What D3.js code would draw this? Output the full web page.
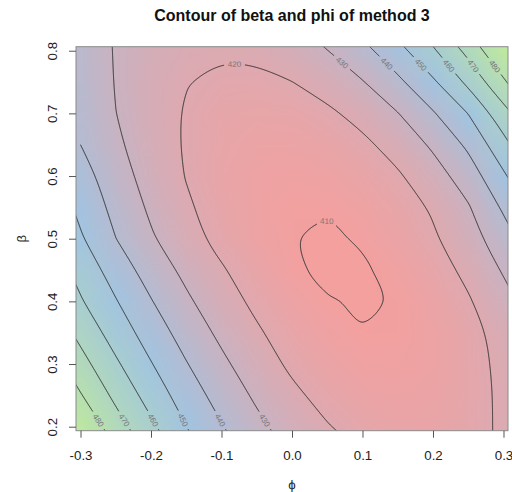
<!DOCTYPE html>
<html>
<head>
<meta charset="utf-8">
<script src="https://cdn.jsdelivr.net/npm/d3@7"></script>
<style>
  body { margin: 0; background: #fff; }
  svg { display: block; font-family: "Liberation Sans", Arial, Helvetica, sans-serif; }
</style>
</head>
<body>
<script>
// Grid of the surface, rows run from beta = 0.8 (top) down to beta = 0.2
const phiValues = [-0.3, -0.25, -0.2, -0.15, -0.1, -0.05, 0, 0.05, 0.1, 0.15, 0.2, 0.25, 0.3];
const betaValues = [0.8, 0.75, 0.7, 0.65, 0.6, 0.55, 0.5, 0.45, 0.4, 0.35, 0.3, 0.25, 0.2];
const zValues = [
  [436.7, 429.3, 424.8, 422.0, 421.0, 421.8, 424.8, 429.8, 436.9, 446.6, 458.6, 472.8, 490.0],
  [437.7, 429.5, 424.0, 420.3, 418.1, 418.0, 419.9, 423.7, 429.5, 437.9, 448.5, 462.3, 478.4],
  [438.7, 430.1, 423.9, 419.3, 416.4, 415.3, 416.0, 418.4, 422.9, 429.7, 439.1, 450.2, 466.3],
  [440.0, 431.7, 424.6, 419.1, 415.4, 413.5, 413.4, 414.9, 418.1, 423.5, 431.5, 441.8, 456.8],
  [444.3, 434.3, 426.1, 419.6, 415.1, 412.4, 411.5, 412.3, 414.8, 418.9, 425.7, 434.8, 448.5],
  [447.6, 437.1, 428.4, 421.3, 415.8, 412.3, 410.5, 410.7, 412.0, 415.7, 421.0, 429.1, 441.4],
  [451.1, 440.1, 431.1, 423.3, 417.2, 412.9, 410.33, 409.1, 410.6, 413.8, 418.8, 426.0, 435.6],
  [456.7, 445.4, 435.8, 427.6, 420.9, 415.1, 410.73, 409.1, 409.35, 411.7, 416.0, 422.2, 430.9],
  [460.9, 450.6, 440.5, 431.6, 424.1, 417.9, 412.9, 410.3, 409.45, 410.4, 414.0, 419.1, 426.7],
  [467.1, 455.6, 445.4, 435.9, 427.9, 421.2, 415.6, 411.9, 410.28, 410.5, 412.8, 417.1, 423.0],
  [473.6, 461.5, 450.5, 440.5, 432.0, 424.4, 418.3, 414.0, 411.7, 411.3, 412.9, 416.6, 422.1],
  [480.7, 467.6, 455.9, 445.2, 436.1, 428.4, 421.9, 417.0, 413.9, 412.8, 413.7, 416.7, 421.5],
  [489.3, 474.4, 462.0, 450.1, 440.6, 432.3, 425.6, 420.5, 416.9, 415.1, 415.2, 417.3, 421.2]
];
const levels = [410, 420, 430, 440, 450, 460, 470, 480];
const xTicks = [-0.3, -0.2, -0.1, 0, 0.1, 0.2, 0.3];
const yTicks = [0.2, 0.3, 0.4, 0.5, 0.6, 0.7, 0.8];
const title = 'Contour of beta and phi of method 3';

const fontFamily = '"Liberation Sans", Arial, Helvetica, sans-serif';

// Dimensions
const width = 512;
const height = 492;
const margin = { top: 46.7, right: 4, bottom: 61.3, left: 76 };
const innerWidth = width - margin.left - margin.right;
const innerHeight = height - margin.top - margin.bottom;

const nx = phiValues.length;
const ny = betaValues.length;

const svg = d3.select('body')
  .append('svg')
  .attr('width', width)
  .attr('height', height)
  .attr('font-family', fontFamily);

// Scales (axes are slightly wider than the grid, like R's image)
const xScale = d3.scaleLinear()
  .domain([-0.3064, 0.3064])
  .range([margin.left, margin.left + innerWidth]);
const yScale = d3.scaleLinear()
  .domain([0.1936, 0.8064])
  .range([margin.top + innerHeight, margin.top]);

const zExtent = d3.extent(zValues.flat());
const color = d3.scaleLinear()
  .domain([zExtent[0], (zExtent[0] + zExtent[1]) / 2, zExtent[1]])
  .range(['#f5a09e', '#a1c4e2', '#bde8a1']);

const defs = svg.append('defs');
defs.append('clipPath')
  .attr('id', 'plot-clip')
  .append('rect')
  .attr('x', margin.left)
  .attr('y', margin.top)
  .attr('width', innerWidth)
  .attr('height', innerHeight);

// Colour image: one pixel per grid value, the browser smooths it when scaled
const canvas = document.createElement('canvas');
canvas.width = nx;
canvas.height = ny;
const ctx = canvas.getContext('2d');
const img = ctx.createImageData(nx, ny);
zValues.forEach((row, j) => row.forEach((z, i) => {
  const c = d3.rgb(color(z));
  const k = (j * nx + i) * 4;
  img.data[k] = c.r;
  img.data[k + 1] = c.g;
  img.data[k + 2] = c.b;
  img.data[k + 3] = 255;
}));
ctx.putImageData(img, 0, 0);

const halfX = (phiValues[1] - phiValues[0]) / 2;
const halfY = (betaValues[0] - betaValues[1]) / 2;

const plot = svg.append('g').attr('clip-path', 'url(#plot-clip)');
plot.append('image')
  .attr('href', canvas.toDataURL())
  .attr('preserveAspectRatio', 'none')
  .attr('x', xScale(phiValues[0] - halfX))
  .attr('y', yScale(betaValues[0] + halfY))
  .attr('width', xScale(phiValues[nx - 1] + halfX) - xScale(phiValues[0] - halfX))
  .attr('height', yScale(betaValues[ny - 1] - halfY) - yScale(betaValues[0] + halfY));

// Contour lines from d3.contours
const probe = d3.contours().size([2, 1]).thresholds([0.5])([0, 1]);
const offset = d3.min(probe[0].coordinates[0][0], p => p[0]) - 0.5;
const gx = d3.scaleLinear().domain([0, nx - 1]).range([phiValues[0], phiValues[nx - 1]]);
const gy = d3.scaleLinear().domain([0, ny - 1]).range([betaValues[0], betaValues[ny - 1]]);

const eps = 1e-9;
const onEdge = p => p[0] <= eps || p[0] >= nx - eps || p[1] <= eps || p[1] >= ny - eps;

const lines = [];
d3.contours().size([nx, ny]).thresholds(levels)(zValues.flat()).forEach(c => {
  c.coordinates.forEach(poly => poly.forEach(ring => {
    let pts = ring.slice(0, -1);
    const k = pts.findIndex(onEdge);
    if (k < 0) {
      lines.push({ value: c.value, closed: true, pts });
      return;
    }
    pts = pts.slice(k).concat(pts.slice(0, k), [pts[k]]);
    let run = [];
    pts.forEach(p => {
      if (onEdge(p)) {
        if (run.length > 1) lines.push({ value: c.value, closed: false, pts: run });
        run = [];
      } else {
        run.push(p);
      }
    });
  }));
});

// Extend open lines a little past the grid so they reach the frame
function extend(a, b) {
  const dx = a[0] - b[0], dy = a[1] - b[1];
  const len = Math.hypot(dx, dy) || 1;
  return [a[0] + dx / len * 0.6, a[1] + dy / len * 0.6];
}
lines.forEach(l => {
  let pts = l.pts;
  if (!l.closed) {
    const n = pts.length;
    pts = [extend(pts[0], pts[1])].concat(pts, [extend(pts[n - 1], pts[n - 2])]);
  }
  l.px = pts.map(p => [xScale(gx(p[0] - offset)), yScale(gy(p[1] - offset))]);
});

const lineOpen = d3.line().curve(d3.curveBasis);
const lineClosed = d3.line().curve(d3.curveCatmullRomClosed.alpha(0.5));

const contourGroup = plot.append('g');
const paths = contourGroup.selectAll('path')
  .data(lines)
  .enter()
  .append('path')
  .attr('d', d => (d.closed ? lineClosed : lineOpen)(d.px))
  .style('fill', 'none')
  .style('stroke', '#333')
  .style('stroke-width', '1px');

// Contour labels, the line is broken where a label sits
const x0 = margin.left, x1 = margin.left + innerWidth;
const y0 = margin.top, y1 = margin.top + innerHeight;
const inside = p => p.x >= x0 && p.x <= x1 && p.y >= y0 && p.y <= y1;

const labelGroup = svg.append('g');
paths.each(function(d) {
  const node = this;
  const total = node.getTotalLength();
  const all = d3.range(0, total, 0.75).concat([total]).map(s => {
    const p = node.getPointAtLength(s);
    return { s, x: p.x, y: p.y };
  });
  const samples = all.filter(inside);
  if (!samples.length) return;

  const topIdx = d3.minIndex(samples, p => p.y);
  let s;
  if (d.closed || (topIdx > 4 && topIdx < samples.length - 5)) {
    s = samples[topIdx].s;
  } else {
    const first = samples[0], last = samples[samples.length - 1];
    const ends = [[first, 1], [last, -1]];
    const bottomEnd = ends.find(e => e[0].y > y1 - 2);
    const topEnd = ends.find(e => e[0].y < y0 + 2);
    if (bottomEnd) s = bottomEnd[0].s + bottomEnd[1] * 12;
    else if (topEnd) s = topEnd[0].s + topEnd[1] * 24;
    else s = samples[Math.floor(samples.length / 2)].s;
  }
  const p = node.getPointAtLength(s);
  const pa = node.getPointAtLength(Math.max(0, s - 2));
  const pb = node.getPointAtLength(Math.min(total, s + 2));
  let angle = Math.atan2(pb.y - pa.y, pb.x - pa.x) * 180 / Math.PI;
  if (angle > 90) angle -= 180;
  if (angle < -90) angle += 180;

  const label = labelGroup.append('text')
    .attr('transform', `translate(${p.x},${p.y}) rotate(${angle})`)
    .attr('text-anchor', 'middle')
    .attr('dy', '0.36em')
    .style('font-size', '8px')
    .style('fill', '#777')
    .text(d.value);
  const w = label.node().getComputedTextLength();

  const gapA = s - w / 2 - 3.5, gapB = s + w / 2 + 3.5;
  const segs = [[]];
  all.forEach(q => {
    if (q.s > gapA && q.s < gapB) {
      if (segs[segs.length - 1].length) segs.push([]);
    } else {
      segs[segs.length - 1].push([q.x, q.y]);
    }
  });
  d3.select(node).attr('d', segs.filter(g => g.length > 1).map(g => 'M' + g.join('L')).join(''));
});

// Frame
svg.append('rect')
  .attr('x', margin.left)
  .attr('y', margin.top)
  .attr('width', innerWidth)
  .attr('height', innerHeight)
  .style('fill', 'none')
  .style('stroke', '#8a8a8a')
  .style('stroke-width', '1px');

// Axes
const xAxis = d3.axisBottom(xScale).tickValues(xTicks).tickSize(7).tickFormat(d => d.toFixed(1));
const yAxis = d3.axisLeft(yScale).tickValues(yTicks).tickSize(7).tickFormat(d => d.toFixed(1));

const gxAxis = svg.append('g')
  .attr('class', 'x-axis')
  .attr('transform', `translate(0, ${margin.top + innerHeight})`)
  .call(xAxis)
  .attr('font-family', fontFamily);
gxAxis.select('.domain').remove();
gxAxis.selectAll('line').style('stroke', '#555');
gxAxis.selectAll('text')
  .attr('y', 29.3)
  .attr('dy', null)
  .style('font-size', '13.3px')
  .style('fill', '#222');

const gyAxis = svg.append('g')
  .attr('class', 'y-axis')
  .attr('transform', `translate(${margin.left}, 0)`)
  .call(yAxis)
  .attr('font-family', fontFamily);
gyAxis.select('.domain').remove();
gyAxis.selectAll('line').style('stroke', '#555');
gyAxis.selectAll('text')
  .attr('x', null)
  .attr('dy', null)
  .attr('transform', 'translate(-19, 0) rotate(-90)')
  .attr('text-anchor', 'middle')
  .style('font-size', '13.3px')
  .style('fill', '#222');

// Title and axis labels
svg.append('text')
  .attr('x', margin.left + innerWidth / 2)
  .attr('y', 20.5)
  .attr('text-anchor', 'middle')
  .style('font-size', '16px')
  .style('font-weight', 'bold')
  .style('fill', '#111')
  .text(title);

svg.append('text')
  .attr('x', margin.left + innerWidth / 2)
  .attr('y', 488.5)
  .attr('text-anchor', 'middle')
  .style('font-size', '13.3px')
  .style('fill', '#222')
  .text('ϕ');

svg.append('text')
  .attr('transform', `translate(26, ${margin.top + innerHeight / 2}) rotate(-90)`)
  .attr('text-anchor', 'middle')
  .style('font-size', '13.3px')
  .style('fill', '#222')
  .text('β');
</script>
</body>
</html>
